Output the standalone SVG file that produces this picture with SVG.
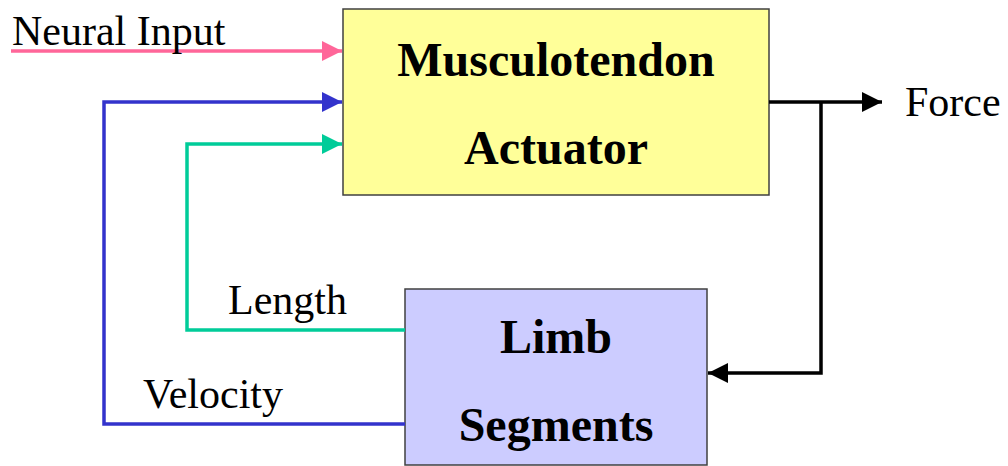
<svg xmlns="http://www.w3.org/2000/svg" width="1008" height="466" viewBox="0 0 1008 466">
  <style>
    .box { stroke: #404040; stroke-width: 1.5; }
    .title { font-family: "Liberation Serif", "Times New Roman", serif; font-weight: bold; font-size: 48px; text-anchor: middle; fill: #000; }
    .label { font-family: "Liberation Serif", "Times New Roman", serif; font-size: 42px; fill: #000; }
    .wire { fill: none; stroke-width: 3.5; }
  </style>
  <defs>
    <marker id="ahPink" viewBox="0 0 20 20" refX="20" refY="10" markerUnits="userSpaceOnUse" markerWidth="20" markerHeight="20" orient="auto"><path d="M0,0 L20,10 L0,20 Z" fill="#FF6699"/></marker>
    <marker id="ahBlue" viewBox="0 0 20 20" refX="20" refY="10" markerUnits="userSpaceOnUse" markerWidth="20" markerHeight="20" orient="auto"><path d="M0,0 L20,10 L0,20 Z" fill="#3333CC"/></marker>
    <marker id="ahGreen" viewBox="0 0 20 20" refX="20" refY="10" markerUnits="userSpaceOnUse" markerWidth="20" markerHeight="20" orient="auto"><path d="M0,0 L20,10 L0,20 Z" fill="#00CC99"/></marker>
    <marker id="ahBlack" viewBox="0 0 20 20" refX="20" refY="10" markerUnits="userSpaceOnUse" markerWidth="20" markerHeight="20" orient="auto"><path d="M0,0 L20,10 L0,20 Z" fill="#000"/></marker>
  </defs>

  <g id="actuator">
    <rect class="box" x="343" y="9" width="426" height="186" fill="#FFFF99"/>
    <text class="title" x="556" y="76">Musculotendon</text>
    <text class="title" x="556" y="164">Actuator</text>
  </g>

  <g id="limb">
    <rect class="box" x="405" y="289" width="302" height="176" fill="#CCCCFF"/>
    <text class="title" x="556" y="353">Limb</text>
    <text class="title" x="556" y="441">Segments</text>
  </g>

  <g id="connectors">
    <path class="wire" stroke="#FF6699" d="M11,51 H342" marker-end="url(#ahPink)"/>
    <path class="wire" stroke="#3333CC" d="M405,424 H104 V102 H342" marker-end="url(#ahBlue)"/>
    <path class="wire" stroke="#00CC99" d="M405,330 H187 V144 H342" marker-end="url(#ahGreen)"/>
    <path class="wire" stroke="#000" d="M769,102 H882" marker-end="url(#ahBlack)"/>
    <path class="wire" stroke="#000" d="M821,102 V373 H708" marker-end="url(#ahBlack)"/>
  </g>

  <g id="labels">
    <text class="label" x="12" y="45">Neural Input</text>
    <text class="label" x="905" y="116">Force</text>
    <text class="label" x="228" y="314">Length</text>
    <text class="label" x="143" y="408">Velocity</text>
  </g>
</svg>
